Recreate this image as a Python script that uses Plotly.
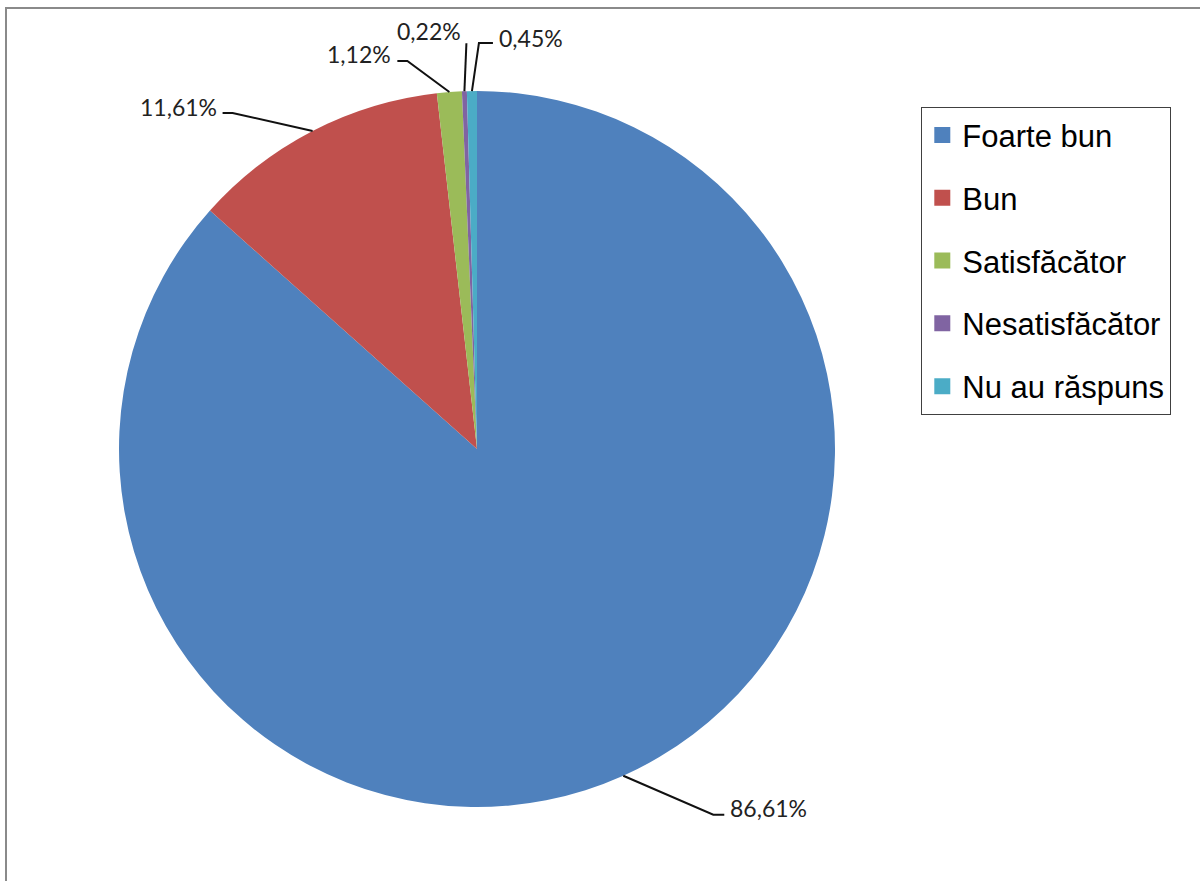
import math
import plotly.graph_objects as go

# ---- data ----
categories = ["Foarte bun", "Bun", "Satisfăcător", "Nesatisfăcător", "Nu au răspuns"]
values = [86.61, 11.61, 1.12, 0.22, 0.45]
value_labels = ["86,61%", "11,61%", "1,12%", "0,22%", "0,45%"]
colors = ["#4F81BD", "#C0504D", "#9BBB59", "#8064A2", "#4BACC6"]

# ---- layout / style ----
W, H = 1200, 881
CX, CY, R = 477, 449, 358          # pie centre / radius in px (style)
# leader-line styling per label: (elbow offset from edge, horizontal tail, text side, text offset)
label_style = [
    dict(elbow=(90, 39), tail=11, side="left", toff=(4, -7)),
    dict(elbow=(-80, -18), tail=-10, side="right", toff=(-4, -6)),
    dict(elbow=(-42, -31), tail=-10, side="right", toff=(-4, -7)),
    dict(elbow=(2, -48), tail=0, side="right", toff=(-3, -12)),
    dict(elbow=(7, -48), tail=14, side="left", toff=(4, -5)),
]

def px(x):
    return x / W

def py(y):
    return 1 - y / H

fig = go.Figure()

fig.add_trace(go.Pie(
    labels=categories,
    values=values,
    sort=False,
    direction="clockwise",
    rotation=0,
    textinfo="none",
    hoverinfo="label+percent",
    marker=dict(colors=colors, line=dict(width=0)),
    showlegend=False,
    domain=dict(x=[px(CX - R), px(CX + R)], y=[py(CY + R), py(CY - R)]),
))

# legend entries
for name, col in zip(categories, colors):
    fig.add_trace(go.Scatter(
        x=[None], y=[None], mode="markers", name=name, legendgroup=name,
        marker=dict(symbol="square", size=16, color=col, line=dict(width=0)),
        hoverinfo="skip",
    ))

shapes = []
annotations = []
total = sum(values)
cum = 0.0
for v, lab, st in zip(values, value_labels, label_style):
    mid = (cum + v / 2) / total
    cum += v
    ang = 2 * math.pi * mid
    ex = CX + R * math.sin(ang)
    ey = CY - R * math.cos(ang)
    bx, by = ex + st["elbow"][0], ey + st["elbow"][1]
    tx, ty = bx + st["tail"], by
    shapes.append(dict(
        type="path", xref="paper", yref="paper",
        path=f"M {px(ex)},{py(ey)} L {px(bx)},{py(by)} L {px(tx)},{py(ty)}",
        line=dict(color="#111111", width=2),
    ))
    annotations.append(dict(
        xref="paper", yref="paper",
        x=px(tx + st["toff"][0]), y=py(ty + st["toff"][1]),
        xanchor=st["side"], yanchor="middle", showarrow=False,
        text=lab, font=dict(family="Lato", size=23, color="#222222"),
    ))

# chart-area frame (top and left edges visible)
shapes.append(dict(
    type="path", xref="paper", yref="paper",
    path=f"M {px(6)},-0.02 L {px(6)},{py(8)} L 1.02,{py(8)}",
    line=dict(color="#8a8a8a", width=2),
))

fig.update_layout(
    width=W, height=H,
    margin=dict(l=0, r=0, t=0, b=0),
    paper_bgcolor="white", plot_bgcolor="white",
    xaxis=dict(visible=False), yaxis=dict(visible=False),
    shapes=shapes, annotations=annotations,
    legend=dict(
        x=px(921), y=py(107), xanchor="left", yanchor="top",
        bgcolor="white", bordercolor="#404040", borderwidth=1.3,
        font=dict(family="Liberation Sans", size=31, color="#000000"),
        tracegroupgap=19.5, itemwidth=30,
    ),
)

fig.write_html("out.html", config={"displayModeBar": False},
               post_script="document.body.style.margin='0';")
